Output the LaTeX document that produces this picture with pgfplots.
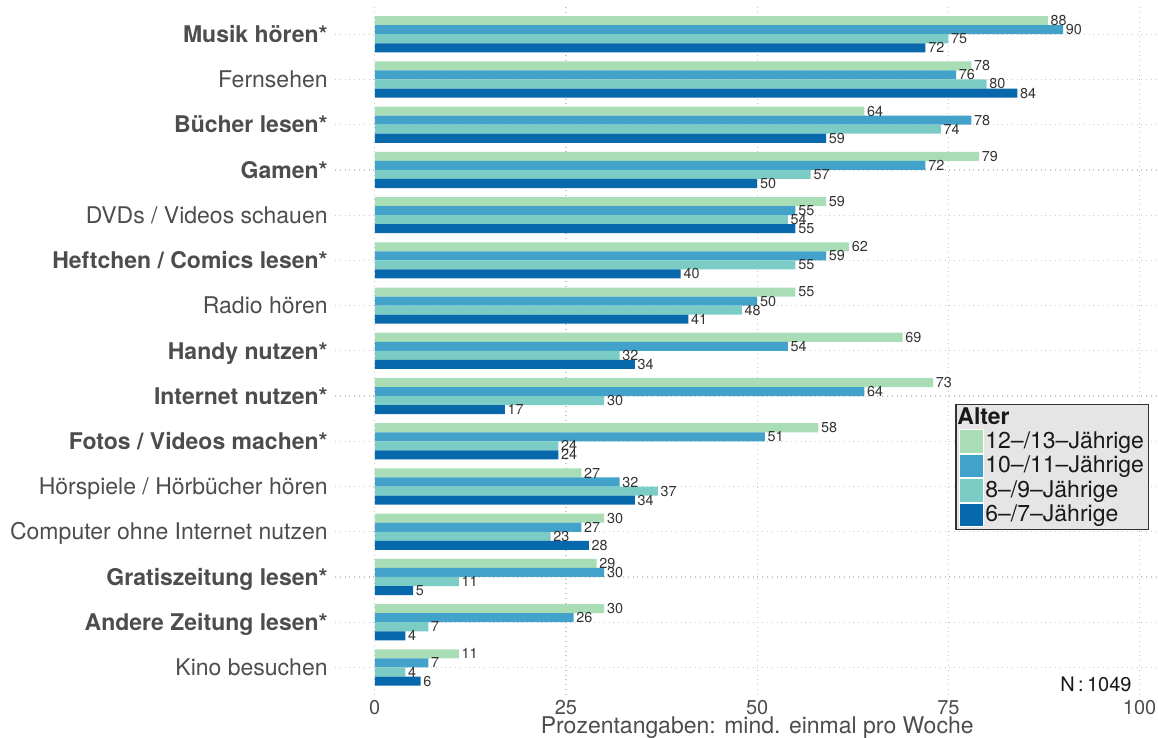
\documentclass[border=0pt]{standalone}
\usepackage{pgfplots}
\pgfplotsset{compat=1.18}
\usepackage{fontspec}
\setmainfont{TeX Gyre Heros}
\definecolor{cA}{HTML}{A8DDB5}
\definecolor{cB}{HTML}{43A2CA}
\definecolor{cC}{HTML}{7BCCC4}
\definecolor{cD}{HTML}{0868AC}
\definecolor{txt}{HTML}{4D4D4D}
\definecolor{gridc}{HTML}{C8C8C8}
\definecolor{legbg}{HTML}{E5E5E5}
\begin{document}
\begin{tikzpicture}
\useasboundingbox (0,0) rectangle (579pt,369pt);
\begin{axis}[
  at={(167.5pt,21.7pt)}, anchor=south west,
  scale only axis, width=411.5pt, height=343.75pt,
  xmin=-5.2, xmax=102.4, ymin=0.4, ymax=15.6,
  clip=false,
  xbar, bar width=0.2,
  axis line style={draw=none},
  major tick length=0pt,
  xtick={0,25,50,75,100},
  ytick={1,...,15},
  yticklabels={Kino besuchen,\textbf{Andere Zeitung lesen*},\textbf{Gratiszeitung lesen*},Computer ohne Internet nutzen,Hörspiele / Hörbücher hören,\textbf{Fotos / Videos machen*},\textbf{Internet nutzen*},\textbf{Handy nutzen*},Radio hören,\textbf{Heftchen / Comics lesen*},DVDs / Videos schauen,\textbf{Gamen*},\textbf{Bücher lesen*},Fernsehen,\textbf{Musik hören*}},
  grid=major,
  grid style={gridc, dotted, line width=0.6pt},
  /pgf/number format/assume math mode=true,
  xticklabel style={font=\fontsize{10}{12}\selectfont, text=txt, inner sep=0pt, anchor=north, yshift=-2.6pt},
  yticklabel style={font=\fontsize{11.5}{13}\selectfont, text=txt, inner sep=0pt, anchor=base east, xshift=-3.5pt, yshift=-4.1pt},
  xlabel={Prozentangaben: mind. einmal pro Woche},
  xlabel style={at={(axis description cs:0.513,0)}, anchor=base, yshift=-19.7pt, inner sep=0pt, font=\fontsize{11.5}{13}\selectfont, text=txt},
  point meta=x,
  nodes near coords,
  nodes near coords style={font=\fontsize{7.2}{8}\selectfont, text=black!80, anchor=west, inner sep=1.2pt},
  legend cell align=left,
  legend image code/.code={\fill[#1, draw=white, line width=0.5pt] (0pt,-5.875pt) rectangle (12pt,5.875pt);},
  legend style={at={(axis cs:75.9,6.83)}, anchor=north west, fill=legbg, draw=black!80, line width=0.6pt,
    font=\fontsize{11.5}{13}\selectfont, text=black!90, row sep=0pt, inner xsep=1.5pt, inner ysep=1pt,
    nodes={inner sep=0.75pt}},
]
\addlegendimage{empty legend}
\addlegendentry{\hspace{-14pt}\textbf{Alter}}
\addplot[fill=cA, draw=none, bar shift=0.3] coordinates {
(88,15) (78,14) (64,13) (79,12) (59,11) (62,10) (55,9) (69,8) (73,7) (58,6) (27,5) (30,4) (29,3) (30,2) (11,1)};
\addlegendentry{12–/13–Jährige}
\addplot[fill=cB, draw=none, bar shift=0.1] coordinates {
(90,15) (76,14) (78,13) (72,12) (55,11) (59,10) (50,9) (54,8) (64,7) (51,6) (32,5) (27,4) (30,3) (26,2) (7,1)};
\addlegendentry{10–/11–Jährige}
\addplot[fill=cC, draw=none, bar shift=-0.1] coordinates {
(75,15) (80,14) (74,13) (57,12) (54,11) (55,10) (48,9) (32,8) (30,7) (24,6) (37,5) (23,4) (11,3) (7,2) (4,1)};
\addlegendentry{8–/9–Jährige}
\addplot[fill=cD, draw=none, bar shift=-0.3] coordinates {
(72,15) (84,14) (59,13) (50,12) (55,11) (40,10) (41,9) (34,8) (17,7) (24,6) (34,5) (28,4) (5,3) (4,2) (6,1)};
\addlegendentry{6–/7–Jährige}
\node[anchor=base east, inner sep=0pt, font=\fontsize{10}{12}\selectfont, text=black!90] at (axis cs:99,0.46) {N\,:\,1049};
\end{axis}
\end{tikzpicture}
\end{document}
